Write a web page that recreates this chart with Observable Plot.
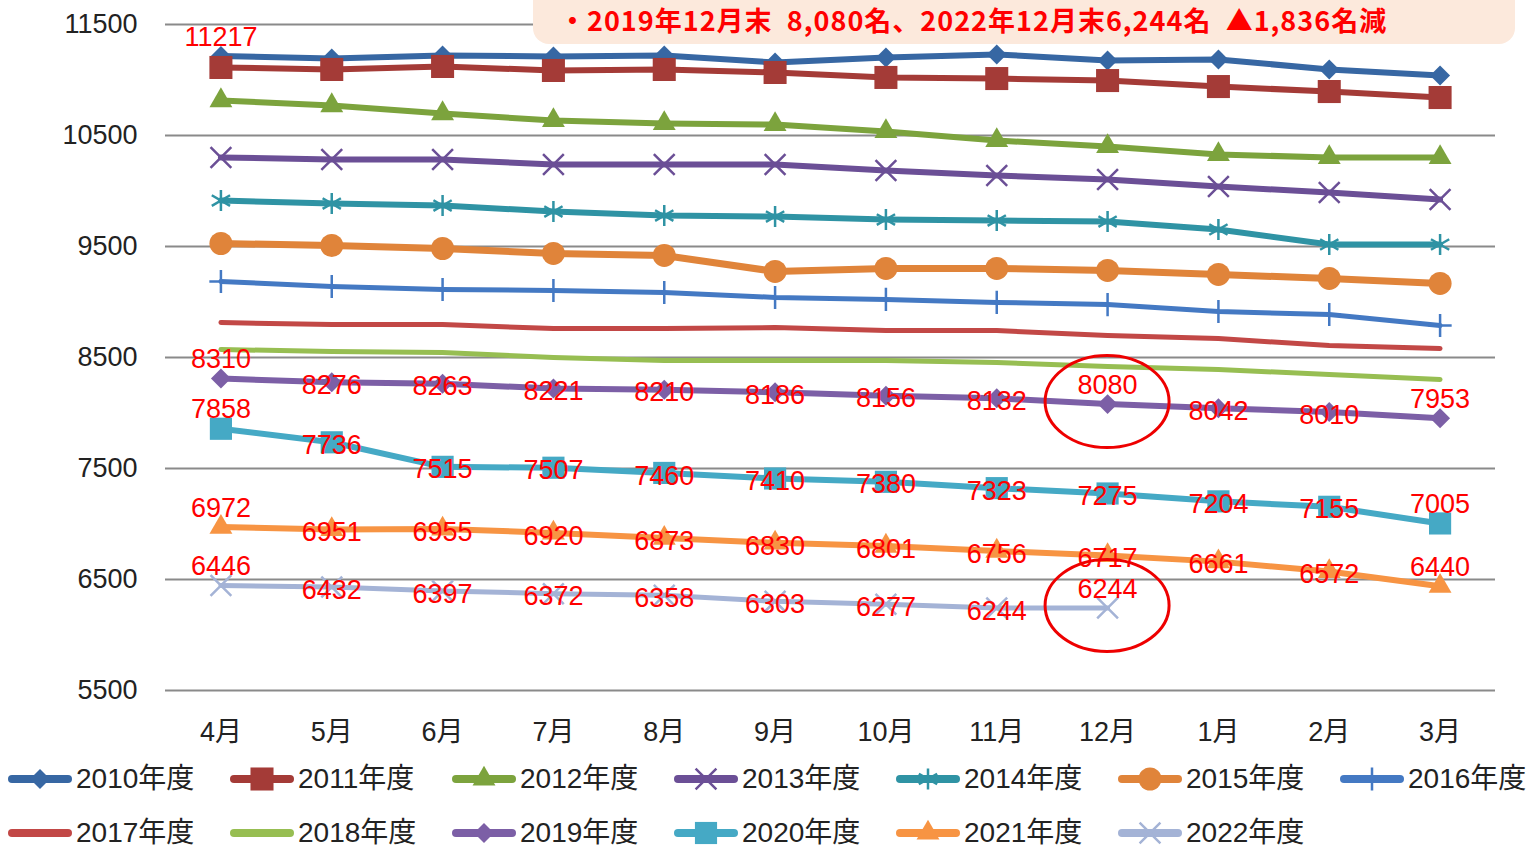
<!DOCTYPE html>
<html>
<head>
<meta charset="utf-8">
<script src="https://cdn.jsdelivr.net/npm/d3@7"></script>
<script src="https://cdn.jsdelivr.net/npm/@observablehq/plot@0.6"></script>
<style>
  body { margin: 0; background: #fff; }
  #wrap { position: relative; width: 1534px; height: 847px; overflow: hidden; background: #fff; }
  #chart { position: absolute; left: 0; top: 0; }
  #header { position: absolute; left: 533px; top: 0px; width: 982px; height: 44px; background: #fce9dc; border-radius: 0 0 16px 16px; }
  #header span { position: absolute; left: 26px; top: 5px; color: #ff0000; font-weight: bold; font-size: 27px; line-height: 30px; white-space: nowrap;
    letter-spacing: 1px; font-family: "Liberation Sans Narrow", "Noto Sans CJK JP", sans-serif; }
  #legend { position: absolute; left: 0; top: 752px; width: 1534px; }
  .row { position: relative; height: 54px; }
  .item { position: absolute; top: 0; height: 54px; }
  .item svg { position: absolute; left: 8px; top: 0; }
  .item span { position: absolute; left: 76px; top: 10px; font-size: 28px; line-height: 34px; color: #222; white-space: nowrap;
    font-family: "Liberation Sans", "Noto Sans CJK JP", sans-serif; }
</style>
</head>
<body>
<div id="wrap">
  <div id="chart"></div>
  <div id="header"><span id="headerText"></span></div>
  <div id="legend"></div>
</div>
<script>
// ---- data ----
const months = ["4月","5月","6月","7月","8月","9月","10月","11月","12月","1月","2月","3月"];
const seriesNames = ["2010年度","2011年度","2012年度","2013年度","2014年度","2015年度","2016年度",
                     "2017年度","2018年度","2019年度","2020年度","2021年度","2022年度"];
const yTicks = [5500, 6500, 7500, 8500, 9500, 10500, 11500];

const v2010 = [11217, 11194, 11221, 11212, 11221, 11158, 11203, 11230, 11176, 11185, 11095, 11040];
const v2011 = [11113, 11095, 11122, 11086, 11095, 11068, 11023, 11013, 10995, 10941, 10896, 10842];
const v2012 = [10815, 10770, 10698, 10635, 10608, 10599, 10536, 10455, 10401, 10329, 10302, 10302];
const v2013 = [10302, 10284, 10284, 10239, 10239, 10239, 10185, 10140, 10104, 10041, 9986, 9923];
const v2014 = [9914, 9887, 9869, 9815, 9779, 9770, 9743, 9734, 9725, 9653, 9518, 9518];
const v2015 = [9527, 9509, 9482, 9437, 9419, 9275, 9302, 9302, 9284, 9248, 9212, 9167];
const v2016 = [9185, 9140, 9113, 9104, 9086, 9041, 9023, 8996, 8977, 8914, 8887, 8788];
const v2017 = [8815, 8797, 8797, 8761, 8761, 8770, 8743, 8743, 8698, 8671, 8608, 8581];
const v2018 = [8572, 8554, 8545, 8500, 8473, 8473, 8473, 8455, 8419, 8392, 8347, 8302];
const v2019 = [8310, 8276, 8263, 8221, 8210, 8186, 8156, 8132, 8080, 8042, 8010, 7953];
const v2020 = [7858, 7736, 7515, 7507, 7460, 7410, 7380, 7323, 7275, 7204, 7155, 7005];
const v2021 = [6972, 6951, 6955, 6920, 6873, 6830, 6801, 6756, 6717, 6661, 6572, 6440];
const v2022 = [6446, 6432, 6397, 6372, 6358, 6303, 6277, 6244, 6244];
const seriesValues = [v2010, v2011, v2012, v2013, v2014, v2015, v2016, v2017, v2018, v2019, v2020, v2021, v2022];

const headerText = "・2019年12月末\u00a0\u00a08,080名、2022年12月末6,244名\u00a0\u00a0▲1,836名減";
const highlightMonth = "12月";
const highlightValues = [8080, 6244];

// ---- styles (separate from data) ----
const styles = {
  "2010年度": {color: "#3767a3", symbol: "diamond2", r: 9, w: 6, filled: true},
  "2011年度": {color: "#a43b37", symbol: "square", r: 13, w: 6, filled: true},
  "2012年度": {color: "#7ca33d", symbol: "triangle", r: 8.5, w: 6, filled: true},
  "2013年度": {color: "#6b4f96", symbol: "times", r: 9.5, w: 6, filled: false},
  "2014年度": {color: "#2f93a4", symbol: "asterisk", r: 10, w: 6, filled: false},
  "2015年度": {color: "#e0843a", symbol: "circle", r: 11.5, w: 7, filled: true},
  "2016年度": {color: "#4479c3", symbol: "plus", r: 7.5, w: 5, filled: false},
  "2017年度": {color: "#c24846", symbol: null, w: 5},
  "2018年度": {color: "#97be52", symbol: null, w: 5},
  "2019年度": {color: "#7c5fa6", symbol: "diamond2", r: 9, w: 6, filled: true},
  "2020年度": {color: "#45a9c5", symbol: "square", r: 12.5, w: 6, filled: true},
  "2021年度": {color: "#f79443", symbol: "triangle", r: 8.5, w: 6, filled: true},
  "2022年度": {color: "#a4b3d6", symbol: "times", r: 9.5, w: 5, filled: false}
};

document.getElementById("headerText").textContent = headerText;

const rows = [];
seriesNames.forEach((s, si) => {
  seriesValues[si].forEach((v, i) => {
    if (v != null) rows.push({series: s, month: months[i], value: v, idx: i});
  });
});

const labelSeries = ["2019年度","2020年度","2021年度","2022年度"];
const labelRows = rows.filter(d => labelSeries.includes(d.series) || (d.series === "2010年度" && d.idx === 0));
const isLast = d => d.idx === seriesValues[seriesNames.indexOf(d.series)].length - 1;
const isAbove = d => d.idx === 0 || isLast(d) || (d.month === highlightMonth && highlightValues.includes(d.value));

const marks = [];
marks.push(Plot.ruleY(yTicks, {stroke: "#8a8a8a", strokeWidth: 2}));
seriesNames.forEach(s => {
  const st = styles[s];
  const data = rows.filter(d => d.series === s);
  marks.push(Plot.line(data, {x: "month", y: "value", stroke: st.color, strokeWidth: st.w, strokeLinejoin: "round", strokeLinecap: "round"}));
  if (st.symbol) {
    if (st.filled) {
      marks.push(Plot.dot(data, {x: "month", y: "value", symbol: () => st.symbol, r: st.r, fill: st.color, stroke: "none"}));
    } else {
      marks.push(Plot.dot(data, {x: "month", y: "value", symbol: () => st.symbol, r: st.r, fill: "none", stroke: st.color, strokeWidth: 2.5}));
    }
  }
});
const labelFont = "'Liberation Sans', 'DejaVu Sans', sans-serif";
marks.push(Plot.text(labelRows.filter(d => !isAbove(d)), {x: "month", y: "value", text: d => String(d.value), fill: "#ff0000", fontSize: 27, dy: 3, fontFamily: labelFont}));
marks.push(Plot.text(labelRows.filter(d => isAbove(d)), {x: "month", y: "value", text: d => String(d.value), fill: "#ff0000", fontSize: 27, dy: -19, fontFamily: labelFont}));
marks.push(Plot.axisY(yTicks, {tickSize: 0, tickPadding: 28, fontSize: 27, tickFormat: d => String(d), fill: "#222"}));
marks.push(Plot.axisX({tickSize: 0, tickPadding: 31, fontSize: 27, fill: "#222"}));

const plot = Plot.plot({
  width: 1534,
  height: 752,
  marginLeft: 165,
  marginRight: 39,
  marginTop: 24,
  marginBottom: 62,
  style: {fontFamily: "'Liberation Sans', 'Noto Sans CJK JP', sans-serif", background: "#fff", color: "#222"},
  x: {type: "point", domain: months, padding: 0.5, round: false, label: null},
  y: {domain: [5500, 11500], label: null},
  marks
});
document.getElementById("chart").appendChild(plot);

// highlight ellipses around the 12月 values
const xs = plot.scale("x"), ys = plot.scale("y");
const svg = d3.select(plot);
highlightValues.forEach(v => {
  svg.append("ellipse")
    .attr("cx", xs.apply(highlightMonth))
    .attr("cy", ys.apply(v) - 2)
    .attr("rx", 62).attr("ry", 46)
    .attr("fill", "none").attr("stroke", "#ee0000").attr("stroke-width", 3);
});

// ---- legend ----
const legend = d3.select("#legend");
const perRow = 7;
const symbolMap = {diamond2: d3.symbolDiamond2, square: d3.symbolSquare, triangle: d3.symbolTriangle,
  times: d3.symbolTimes, asterisk: d3.symbolAsterisk, circle: d3.symbolCircle, plus: d3.symbolPlus};
for (let r = 0; r * perRow < seriesNames.length; r++) {
  const row = legend.append("div").attr("class", "row");
  seriesNames.slice(r * perRow, r * perRow + perRow).forEach((s, i) => {
    const st = styles[s];
    const item = row.append("div").attr("class", "item").style("left", (i * 222) + "px");
    const sv = item.append("svg").attr("width", 66).attr("height", 54);
    sv.append("line").attr("x1", 4).attr("x2", 60).attr("y1", 27).attr("y2", 27)
      .attr("stroke", st.color).attr("stroke-width", 8).attr("stroke-linecap", "round");
    if (st.symbol) {
      const size = Math.PI * st.r * st.r;
      sv.append("path").attr("transform", "translate(32,27)")
        .attr("d", d3.symbol(symbolMap[st.symbol], size)())
        .attr("fill", st.filled ? st.color : "none")
        .attr("stroke", st.filled ? "none" : st.color)
        .attr("stroke-width", 2.5);
    }
    item.append("span").text(s);
  });
}
</script>
</body>
</html>
